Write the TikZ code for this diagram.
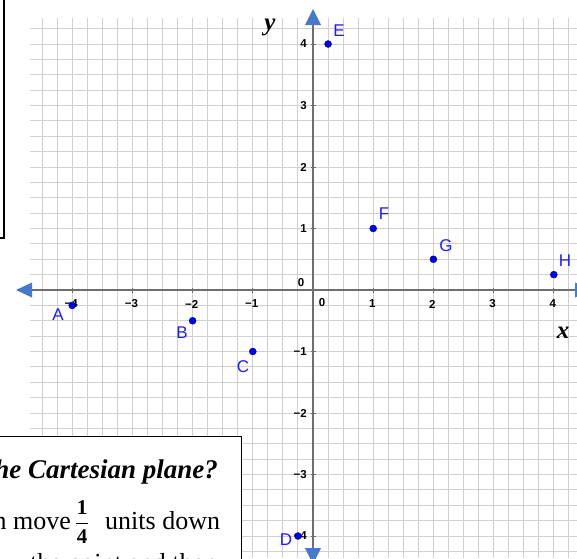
\documentclass[tikz,border=0pt]{standalone}
\usepackage{fontspec}
\setmainfont{Liberation Serif}
\newfontfamily\lsans{Liberation Sans}
\begin{document}
\begin{tikzpicture}[x=1pt,y=-1pt,
  gridline/.style={draw={rgb,255:red,208;green,208;blue,208},line width=1pt},
  axisline/.style={draw={rgb,255:red,110;green,110;blue,110},line width=1.3pt},
  arrowhead/.style={fill={rgb,255:red,70;green,122;blue,200},draw=none},
  ticklab/.style={font=\lsans\bfseries\fontsize{11.5}{13}\selectfont,inner sep=0pt},
  ptdot/.style={circle,fill={rgb,255:red,0;green,0;blue,240},draw={rgb,255:red,0;green,0;blue,120},line width=0.4pt,minimum size=7pt,inner sep=0pt},
  ptlab/.style={font=\lsans\fontsize{17}{19}\selectfont,text={rgb,255:red,30;green,30;blue,255},inner sep=0pt},
  axlab/.style={font=\bfseries\itshape\fontsize{25}{28}\selectfont,inner sep=0pt},
  boxtext/.style={font=\fontsize{26}{30}\selectfont,inner sep=0pt,anchor=base west}
]
\useasboundingbox (0,0) rectangle (577,558);
\clip (0,0) rectangle (577,558);
\fill[white] (0,0) rectangle (577,558);
\def\ox{313}\def\oy{290}\def\ux{60.2}\def\uy{61.5}
% grid
\foreach \k in {-18,...,17} \draw[gridline] ({\ox+\k*15.05},18) -- ({\ox+\k*15.05},558);
\foreach \k in {-17,...,17} \draw[gridline] (30,{\oy-\k*15.375}) -- (577,{\oy-\k*15.375});
% axes
\coordinate (xl) at (30,\oy); \coordinate (xr) at (577,\oy);
\coordinate (yt) at (\ox,18); \coordinate (yb) at (\ox,558);
\draw[axisline] (xl) -- (xr);
\draw[axisline] (yt) -- (yb);
\foreach \i in {-4,-3,-2,-1,1,2,3,4} {
  \draw[axisline,line width=0.8pt] ({\ox+\i*\ux},\oy-2.5) -- ({\ox+\i*\ux},\oy+2.5);
  \draw[axisline,line width=0.8pt] (\ox-2.5,{\oy-\i*\uy}) -- (\ox+2.5,{\oy-\i*\uy});
}
% arrowheads
\fill[arrowhead] (16,\oy) -- (32,\oy-7.5) -- (32,\oy+7.5) -- cycle;
\fill[arrowhead] (\ox,9) -- (\ox-8,25) -- (\ox+8,25) -- cycle;
\fill[arrowhead] (\ox,564) -- (\ox-8,548) -- (\ox+8,548) -- cycle;
\fill[arrowhead] (591,\oy) -- (575,\oy-7.5) -- (575,\oy+7.5) -- cycle;
% tick labels x
\foreach \i/\t in {-4/−4,-3/−3,-2/−2,-1/−1,1/1,2/2,3/3,4/4}
  \node[ticklab] (tx\i) at ({\ox+\i*\ux-1},304) {\t};
% tick labels y
\foreach \i/\t in {4/4,3/3,2/2,1/1,-1/−1,-2/−2,-3/−3,-4/−4}
  \node[ticklab,anchor=east] (ty\i) at (307,{\oy-\i*\uy}) {\t};
\node[ticklab] (zeroa) at (301,283) {0};
\node[ticklab] (zerob) at (322,303) {0};
% axis labels
\node[axlab] (ylab) at (270,27) {y};
\node[axlab] (xlab) at (563,333) {x};
% points
\foreach \n/\X/\Y/\lx/\ly in {A/-4/-0.25/58/315, B/-2/-0.5/182/333, C/-1/-1/243/367, D/-0.25/-4/286/540, E/0.25/4/339/31, F/1/1/384/214, G/2/0.5/446/246, H/4/0.25/565/261} {
  \node[ptdot] (p\n) at ({\ox+\X*\ux},{\oy-\Y*\uy}) {};
  \node[ptlab] (l\n) at (\lx,\ly) {\n};
}
% top-left box
\coordinate (tlA) at (4,0); \coordinate (tlB) at (4,238); \coordinate (tlC) at (-2,238);
\draw[black,line width=1.6pt] (tlA) -- (tlB) -- (tlC);
% bottom-left box
\draw[black,fill=white,line width=1pt] (-5,436) rectangle (241,600);
\node[boxtext,font=\bfseries\itshape\fontsize{27}{30}\selectfont,anchor=base east] (q1) at (218,478) {he Cartesian plane?};
\node[boxtext,anchor=base east] (q2a) at (71,529) {n move};
\node[font=\bfseries\fontsize{21}{24}\selectfont,inner sep=0pt] (num) at (82,508) {1};
\node[font=\bfseries\fontsize{21}{24}\selectfont,inner sep=0pt] (den) at (82,537) {4};
\draw[black,line width=1pt] (76,523) -- (88,523);
\node[boxtext] (q2b) at (105,529) {units down};
\node[boxtext] (q3) at (30,571) {the point and then};
\end{tikzpicture}
\end{document}
